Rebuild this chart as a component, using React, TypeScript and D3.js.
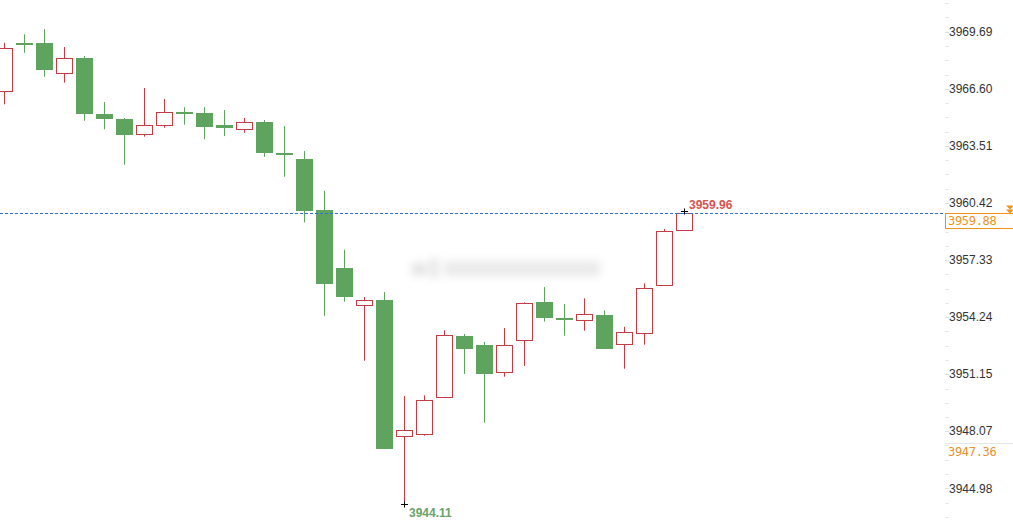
import React from "react";
import * as d3 from "d3";

const opens = [3966.46,3969.08,3969.08,3967.44,3968.26,3965.23,3964.96,3964.14,3964.60,3965.36,3965.29,3964.62,3964.41,3964.80,3963.12,3962.80,3960.02,3956.90,3954.88,3955.17,3947.79,3947.90,3949.90,3953.22,3952.73,3951.26,3952.97,3955.04,3954.22,3954.07,3954.36,3952.77,3953.37,3955.96,3958.98];
const highs = [3969.09,3969.55,3969.83,3968.86,3968.37,3965.88,3965.02,3966.64,3966.05,3965.60,3965.61,3965.45,3965.02,3964.91,3964.58,3963.23,3961.08,3957.89,3955.33,3955.60,3949.97,3950.01,3953.53,3953.33,3952.90,3953.65,3955.04,3955.87,3954.95,3955.26,3954.61,3953.72,3956.07,3959.01,3959.96];
const lows = [3965.76,3968.55,3967.25,3966.93,3964.87,3964.41,3962.49,3964.01,3964.49,3964.66,3963.87,3964.04,3964.22,3962.92,3961.84,3959.37,3954.32,3955.08,3951.88,3947.10,3944.11,3947.83,3949.90,3951.17,3948.53,3951.02,3951.60,3954.00,3953.24,3953.51,3952.53,3951.45,3952.75,3955.96,3958.98];
const closes = [3968.79,3968.98,3967.63,3968.25,3965.25,3964.98,3964.11,3964.62,3965.33,3965.30,3964.55,3964.44,3964.79,3963.14,3963.06,3960.00,3956.00,3955.35,3955.15,3947.12,3948.12,3949.74,3953.26,3952.53,3951.18,3952.72,3954.99,3954.16,3954.14,3954.40,3952.53,3953.42,3955.80,3958.89,3959.88];

const axisTicks = [3969.69, 3966.60, 3963.51, 3960.42, 3957.33, 3954.24, 3951.15, 3948.07, 3944.98];
const lastPrice = 3959.88;
const markPrice = 3947.36;
const highMark = 3959.96;
const lowMark = 3944.11;

const W = 1013, H = 526;
const UP = "#c63c45";
const DOWN = "#5ea35e";

export default function App() {
  const idx = opens.map((_, i) => i);
  const x = d3.scaleBand<number>().domain(idx).range([-6, 694]).paddingInner(0.15).paddingOuter(0.075);
  const y = d3.scaleLinear().domain([3944.98, 3969.69]).range([488.3, 31.7]);
  const bw = x.bandwidth();
  const cx = (i: number) => Math.round((x(i) as number) + bw / 2);

  const maxI = highs.lastIndexOf(highMark);
  const minI = lows.indexOf(lowMark);

  const step = axisTicks[0] - axisTicks[1];
  const minor: number[] = [];
  for (let k = -1; k < axisTicks.length; k++) {
    const a = k < 0 ? axisTicks[0] + step : axisTicks[k];
    for (let m = 1; m < 4; m++) minor.push(a - step * m / 4);
  }

  const yLast = Math.round(y(lastPrice)) + 0.5;
  const yMark = Math.round(y(markPrice)) + 0.5;
  const yHi = Math.round(y(highMark)) + 0.5;
  const yLo = Math.round(y(lowMark)) + 0.5;

  return (
    <svg width={W} height={H} style={{ position: "absolute", left: 0, top: 0, background: "#fff" }}
      fontFamily="Arial, 'Liberation Sans', sans-serif">
      <defs>
        <filter id="blur" x="-20%" y="-80%" width="140%" height="260%">
          <feGaussianBlur stdDeviation="4" />
        </filter>
      </defs>
      {/* blurred watermark */}
      <g filter="url(#blur)" opacity={0.45}>
        <rect x={412} y={263} width={14} height={12} fill="#bdbdbd" />
        <rect x={430} y={258} width={8} height={20} fill="#c4c4c4" />
        <rect x={444} y={261} width={156} height={15} fill="#d0d0d0" />
      </g>

      {/* candles */}
      {idx.map(i => {
        const o = opens[i], c = closes[i], h = highs[i], l = lows[i];
        const up = c >= o;
        const col = up ? UP : DOWN;
        const xc = cx(i) + 0.5;
        const yTop = y(Math.max(o, c));
        const yBot = y(Math.min(o, c));
        const bodyH = Math.max(yBot - yTop, 1);
        const left = (x(i) as number);
        if (up) {
          return (
            <g key={i}>
              <line x1={xc} x2={xc} y1={y(h)} y2={yTop} stroke={col} strokeWidth={1} />
              <line x1={xc} x2={xc} y1={yBot} y2={y(l)} stroke={col} strokeWidth={1} />
              <rect x={Math.round(left) + 0.5} y={Math.round(yTop) + 0.5} width={Math.round(bw) - 1}
                height={Math.max(Math.round(bodyH), 1)} fill="#fff" stroke={col} strokeWidth={1} />
            </g>
          );
        }
        return (
          <g key={i}>
            <line x1={xc} x2={xc} y1={y(h)} y2={y(l)} stroke={col} strokeWidth={1} />
            <rect x={Math.round(left)} y={Math.round(yTop)} width={Math.round(bw)}
              height={Math.max(Math.round(bodyH), 2)} fill={col} />
          </g>
        );
      })}

      {/* last price dashed line */}
      <line x1={0} x2={945} y1={yLast} y2={yLast} stroke="#2d73d2" strokeWidth={1} strokeDasharray="3,2" />

      {/* high / low markers */}
      <g stroke="#000" strokeWidth={1}>
        <line x1={cx(maxI) - 3} x2={cx(maxI) + 4} y1={yHi} y2={yHi} />
        <line x1={cx(maxI) + 0.5} x2={cx(maxI) + 0.5} y1={yHi - 3} y2={yHi + 3} />
        <line x1={cx(minI) - 3} x2={cx(minI) + 4} y1={yLo} y2={yLo} />
        <line x1={cx(minI) + 0.5} x2={cx(minI) + 0.5} y1={yLo - 3} y2={yLo + 3} />
      </g>
      <text x={cx(maxI) + 5} y={yHi - 3} fontSize={12} fontWeight="bold" fill="#d9534f">{highMark.toFixed(2)}</text>
      <text x={cx(minI) + 5} y={yLo + 12} fontSize={12} fontWeight="bold" fill="#6aa36a">{lowMark.toFixed(2)}</text>

      {/* right axis */}
      {minor.map((v, k) => (
        <line key={"m" + k} x1={945} x2={949} y1={Math.round(y(v)) + 0.5} y2={Math.round(y(v)) + 0.5} stroke="#e8e8e8" />
      ))}
      {axisTicks.map((v, k) => (
        <g key={"t" + k}>
          <line x1={945} x2={949} y1={Math.round(y(v)) + 0.5} y2={Math.round(y(v)) + 0.5} stroke="#e0e0e0" />
          <text x={949} y={y(v)} dy="0.35em" fontSize={12} fill="#333">{v.toFixed(2)}</text>
        </g>
      ))}

      {/* last price label */}
      <rect x={945.5} y={yLast} width={70} height={15} fill="#fff" stroke="#f0921e" strokeWidth={1} />
      <text x={948} y={yLast + 11.5} fontSize={12} fill="#f0921e" fontFamily="'DejaVu Sans Mono', 'Liberation Mono', monospace" letterSpacing={-0.3}>{lastPrice.toFixed(2)}</text>
      <path d={`M1006,${yLast - 8} h8 l-4,4 z M1006,${yLast - 4} h8 l-4,4 z`} fill="#f0921e" />

      {/* mark price label */}
      <line x1={945} x2={1013} y1={yMark - 1} y2={yMark - 1} stroke="#e6e6e6" />
      <text x={948} y={yMark + 11} fontSize={12} fill="#e8912e" fontFamily="'DejaVu Sans Mono', 'Liberation Mono', monospace" letterSpacing={-0.3}>{markPrice.toFixed(2)}</text>
    </svg>
  );
}
